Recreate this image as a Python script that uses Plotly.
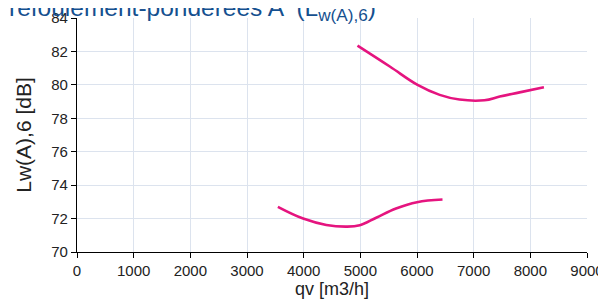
import plotly.graph_objects as go

upper_q = [4950, 5520, 6010, 6400, 6750, 7190, 7460, 7810, 8240]
upper_lw = [82.35, 81.1, 80.0, 79.4, 79.12, 79.08, 79.3, 79.55, 79.86]
lower_q = [3545, 3990, 4400, 4750, 4990, 5280, 5630, 6000, 6450]
lower_lw = [72.7, 72.0, 71.62, 71.52, 71.6, 72.05, 72.6, 72.98, 73.14]

x_ticks = [0, 1000, 2000, 3000, 4000, 5000, 6000, 7000, 8000, 9000]
y_ticks = [70, 72, 74, 76, 78, 80, 82, 84]

line_color = "#E5147F"
fig = go.Figure()
for qs, ls in [(upper_q, upper_lw), (lower_q, lower_lw)]:
    fig.add_trace(go.Scatter(x=qs, y=ls, mode="lines",
                             line=dict(color=line_color, width=2.6, shape="spline", smoothing=1.1),
                             showlegend=False, hoverinfo="skip"))

# the page body adds an 8px offset; margins compensate for it
fig.update_layout(
    width=606, height=303,
    margin=dict(l=69, r=27, t=10, b=59, autoexpand=False),
    paper_bgcolor="white", plot_bgcolor="white",
    font=dict(family="Liberation Sans, Arial, sans-serif", size=15, color="#222222"),
    showlegend=False,
)
fig.update_xaxes(range=[0, 9000], tickvals=x_ticks, ticktext=[str(v) for v in x_ticks],
                 showline=True, linecolor="#000000", linewidth=1.2, automargin=False,
                 ticks="outside", ticklen=5, tickcolor="#000000",
                 tickfont=dict(size=15),
                 showgrid=True, gridcolor="#DCE3EE", gridwidth=1, zeroline=False,
                 title=dict(text="qv [m3/h]", standoff=2, font=dict(size=18)))
fig.update_yaxes(range=[70, 84], tickvals=y_ticks, ticktext=[str(v) for v in y_ticks],
                 showline=True, linecolor="#000000", linewidth=1.2, automargin=False,
                 ticks="outside", ticklen=5, tickcolor="#000000",
                 tickfont=dict(size=15),
                 showgrid=True, gridcolor="#DCE3EE", gridwidth=1, zeroline=False,
                 title=dict(text="Lw(A),6 [dB]", standoff=13, font=dict(size=21)))

fig.add_annotation(text="refoulement-ponderees A  (L<sub>w(A),6</sub>)",
                   xref="paper", yref="paper", x=-0.137, y=1.0, yshift=-9,
                   xanchor="left", yanchor="bottom", showarrow=False,
                   font=dict(size=24.5, color="#15508F"))

fig.write_html("out.html")
